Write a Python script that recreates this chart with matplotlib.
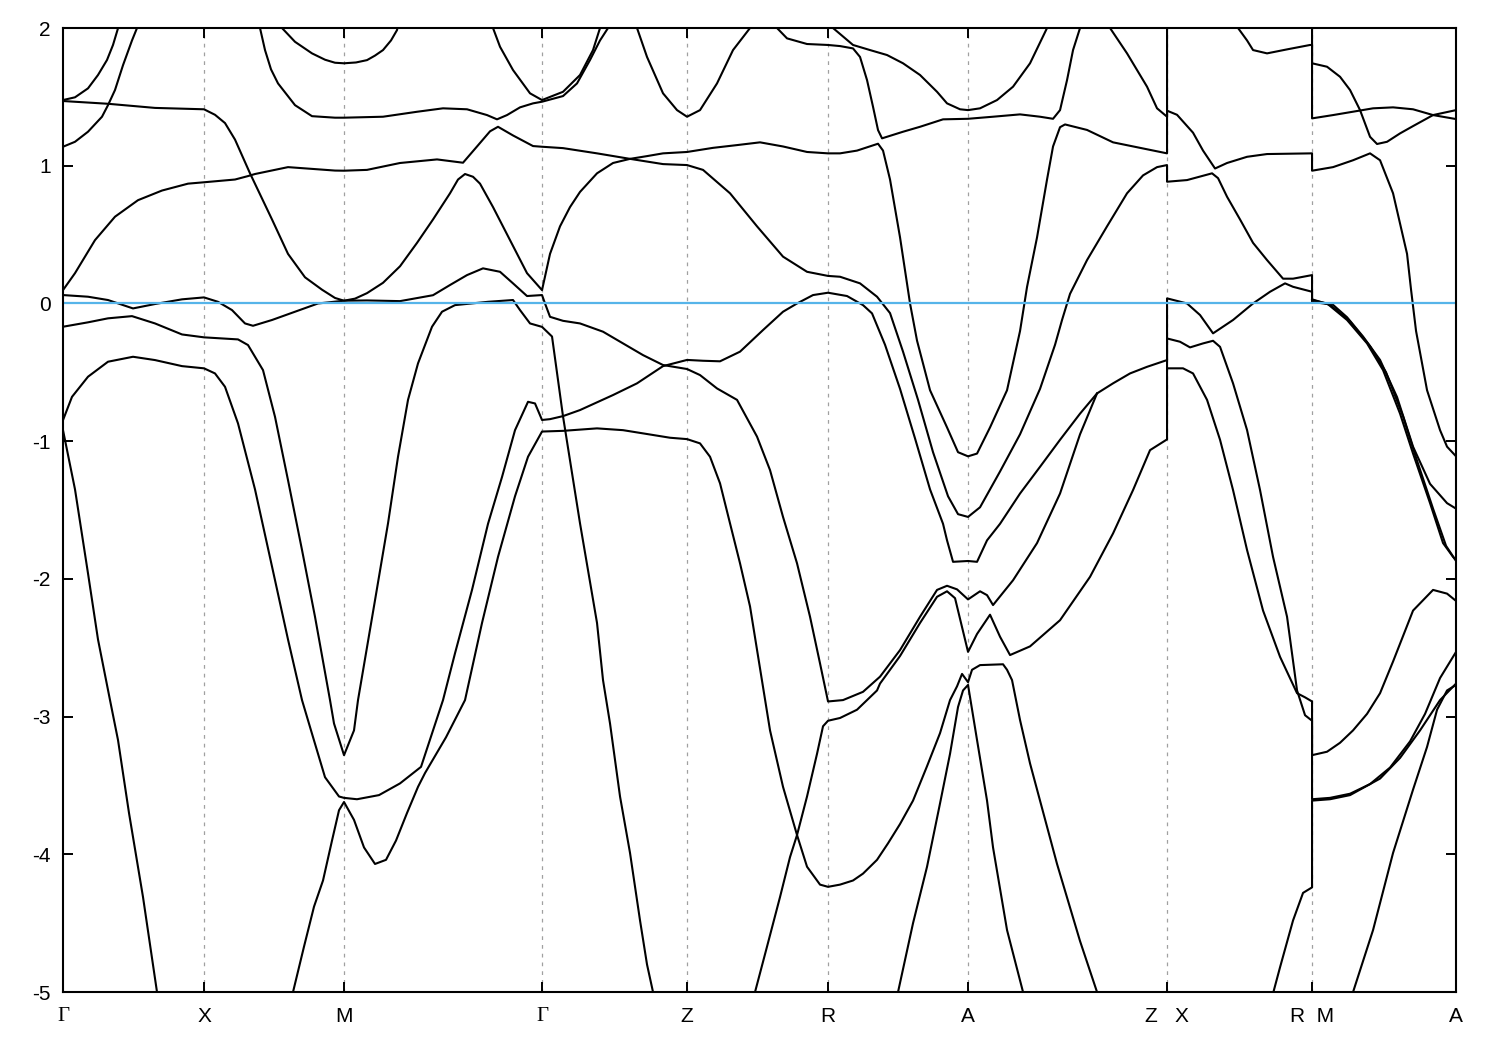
import numpy as np
import matplotlib
matplotlib.use("Agg")
import matplotlib.pyplot as plt

plt.rcParams['font.family'] = ['Liberation Sans', 'DejaVu Sans']
plt.rcParams['axes.unicode_minus'] = False

# high-symmetry points along the k-path
k_ticks = [0.0, 1.41, 2.81, 4.79, 6.24, 7.65, 9.05, 11.04, 12.49, 13.93]
k_labels = ["Γ", "X", "M", "Γ", "Z", "R", "A", "Z   X", "R  M", "A"]
e_min, e_max = -5, 2
e_fermi = 0.0

# bands as (k, E) pairs
b_u1 = [(0.00, 1.477), (0.12, 1.497), (0.25, 1.562), (0.35, 1.659), (0.44, 1.768), (0.50, 1.877), (0.55, 1.998), (0.58, 2.08)]
b_u2 = [(0.00, 1.138), (0.12, 1.174), (0.25, 1.247), (0.39, 1.356), (0.45, 1.44), (0.52, 1.55), (0.60, 1.73), (0.69, 1.91), (0.74, 2.0), (0.76, 2.06)]
b_w = [(1.95, 2.06), (1.97, 2.0), (2.02, 1.84), (2.08, 1.70), (2.15, 1.598), (2.32, 1.44), (2.49, 1.36), (2.72, 1.349), (2.81, 1.349),
       (3.20, 1.356), (3.54, 1.392), (3.80, 1.417), (4.04, 1.41), (4.24, 1.368), (4.34, 1.337), (4.44, 1.368), (4.57, 1.424),
       (4.70, 1.453), (4.79, 1.465), (5.00, 1.506), (5.14, 1.598), (5.27, 1.768), (5.37, 1.91), (5.45, 2.0), (5.48, 2.06)]
b_top = [(2.16, 2.06), (2.19, 2.0), (2.32, 1.90), (2.49, 1.816), (2.62, 1.77), (2.72, 1.748), (2.81, 1.744), (2.93, 1.75),
         (3.04, 1.767), (3.12, 1.80), (3.20, 1.84), (3.28, 1.91), (3.34, 1.985), (3.36, 2.06)]
b_s2 = [(4.28, 2.06), (4.30, 2.0), (4.37, 1.864), (4.50, 1.695), (4.67, 1.526), (4.79, 1.477), (5.00, 1.537), (5.17, 1.659),
        (5.30, 1.84), (5.37, 2.0), (5.39, 2.06)]
b_v = [(5.72, 2.06), (5.74, 2.0), (5.84, 1.79), (6.00, 1.526), (6.14, 1.404), (6.24, 1.356), (6.37, 1.404), (6.54, 1.598),
       (6.70, 1.84), (6.87, 2.0), (7.00, 2.06), (7.14, 2.0), (7.24, 1.925), (7.44, 1.884), (7.65, 1.877), (7.77, 1.869),
       (7.90, 1.852), (7.97, 1.79), (8.04, 1.622), (8.10, 1.428), (8.15, 1.259), (8.19, 1.199), (8.40, 1.247), (8.57, 1.283),
       (8.80, 1.337), (9.05, 1.341), (9.30, 1.356), (9.57, 1.373), (9.77, 1.356), (9.90, 1.341), (9.97, 1.404), (10.04, 1.622),
       (10.10, 1.84), (10.17, 2.0), (10.20, 2.06)]
b_r2 = [(7.65, 2.06), (7.70, 2.0), (7.90, 1.877), (8.07, 1.84), (8.24, 1.804), (8.40, 1.744), (8.57, 1.659), (8.74, 1.537),
        (8.84, 1.453), (8.97, 1.41), (9.05, 1.404), (9.17, 1.417), (9.34, 1.477), (9.50, 1.574), (9.67, 1.744), (9.84, 2.0), (9.87, 2.06)]
b_z1 = [(10.44, 2.06), (10.47, 2.0), (10.64, 1.816), (10.84, 1.574), (10.94, 1.417), (11.04, 1.356), (11.04, 2.1)]
b_x1 = [(11.72, 2.06), (11.75, 2.0), (11.84, 1.91), (11.90, 1.84), (12.04, 1.816), (12.24, 1.845), (12.47, 1.877), (12.49, 1.877),
        (12.49, 1.744), (12.64, 1.719), (12.77, 1.646), (12.87, 1.55), (12.97, 1.404), (13.07, 1.21), (13.14, 1.158),
        (13.24, 1.174), (13.37, 1.235), (13.50, 1.288), (13.70, 1.368), (13.93, 1.404)]
b_m1 = [(12.49, 2.1), (12.49, 1.344), (12.70, 1.368), (13.10, 1.417), (13.30, 1.424), (13.50, 1.41), (13.70, 1.368), (13.93, 1.339)]

b_c = [(0.00, 1.47), (0.45, 1.45), (0.92, 1.42), (1.41, 1.41), (1.52, 1.37), (1.62, 1.31), (1.72, 1.19), (1.87, 0.945),
       (2.09, 0.61), (2.25, 0.36), (2.42, 0.19), (2.59, 0.10), (2.72, 0.04), (2.81, 0.02),
       (2.92, 0.035), (3.04, 0.075), (3.20, 0.15), (3.37, 0.27), (3.54, 0.44), (3.70, 0.61), (3.87, 0.80), (3.95, 0.90), (4.02, 0.94),
       (4.10, 0.92), (4.17, 0.87), (4.30, 0.70), (4.47, 0.46), (4.64, 0.22), (4.79, 0.097),
       (4.87, 0.36), (4.97, 0.56), (5.07, 0.70), (5.17, 0.81), (5.34, 0.945), (5.50, 1.02), (5.67, 1.05), (5.84, 1.07),
       (6.00, 1.09), (6.24, 1.10), (6.50, 1.13), (6.74, 1.15), (6.97, 1.17), (7.20, 1.14), (7.44, 1.10), (7.65, 1.09),
       (7.77, 1.09), (7.94, 1.11), (8.15, 1.16), (8.20, 1.11), (8.27, 0.90), (8.37, 0.48), (8.47, 0.0), (8.54, -0.27),
       (8.67, -0.63), (8.84, -0.90), (8.95, -1.08), (9.05, -1.11),
       (9.14, -1.09), (9.27, -0.90), (9.44, -0.63), (9.57, -0.20), (9.64, 0.12), (9.74, 0.48), (9.84, 0.90), (9.90, 1.14),
       (9.97, 1.28), (10.02, 1.30), (10.24, 1.26), (10.50, 1.17), (10.77, 1.13), (11.04, 1.09),
       (11.04, 1.40), (11.14, 1.37), (11.30, 1.24), (11.40, 1.11), (11.52, 0.98), (11.64, 1.02), (11.84, 1.065), (12.04, 1.085),
       (12.49, 1.09), (12.49, 0.964), (12.70, 0.99), (12.90, 1.04), (13.07, 1.09), (13.17, 1.04), (13.30, 0.80), (13.44, 0.36),
       (13.48, 0.10), (13.53, -0.20), (13.64, -0.63), (13.77, -0.92), (13.84, -1.04), (13.93, -1.11)]
b_d = [(0.00, 0.097), (0.12, 0.22), (0.32, 0.46), (0.52, 0.63), (0.75, 0.75), (0.99, 0.82), (1.25, 0.87), (1.41, 0.88),
       (1.72, 0.90), (1.85, 0.925), (1.92, 0.94), (2.25, 0.99), (2.72, 0.965), (2.81, 0.964),
       (3.04, 0.97), (3.37, 1.02), (3.74, 1.046), (4.00, 1.022), (4.14, 1.14), (4.27, 1.25), (4.35, 1.283), (4.50, 1.22),
       (4.70, 1.143), (4.79, 1.138), (5.00, 1.128), (5.34, 1.09), (5.67, 1.05), (6.00, 1.012), (6.24, 1.005), (6.40, 0.97),
       (6.67, 0.80), (6.94, 0.56), (7.20, 0.34), (7.44, 0.23), (7.65, 0.20), (7.77, 0.194), (7.97, 0.146), (8.14, 0.049),
       (8.27, -0.07), (8.40, -0.35), (8.55, -0.70), (8.70, -1.08), (8.85, -1.40), (8.95, -1.53), (9.05, -1.55),
       (9.17, -1.48), (9.37, -1.22), (9.57, -0.95), (9.77, -0.62), (9.92, -0.30), (9.99, -0.12), (10.07, 0.07), (10.24, 0.315),
       (10.44, 0.56), (10.64, 0.80), (10.80, 0.93), (10.94, 0.99), (11.04, 1.005),
       (11.04, 0.884), (11.24, 0.896), (11.49, 0.945), (11.55, 0.91), (11.64, 0.775), (11.77, 0.61), (11.90, 0.44),
       (12.04, 0.315), (12.20, 0.18), (12.30, 0.18), (12.49, 0.206),
       (12.49, 0.012), (12.70, -0.01), (12.84, -0.10), (13.00, -0.24), (13.17, -0.41), (13.34, -0.68), (13.50, -1.04),
       (13.67, -1.31), (13.84, -1.45), (13.93, -1.49)]
b_e = [(0.00, 0.061), (0.25, 0.049), (0.45, 0.025), (0.70, -0.036), (0.92, -0.004), (1.19, 0.03), (1.41, 0.044),
       (1.55, 0.012), (1.69, -0.048), (1.82, -0.145), (1.90, -0.162), (2.09, -0.12), (2.32, -0.06), (2.55, 0.0), (2.81, 0.02),
       (3.04, 0.022), (3.37, 0.017), (3.70, 0.06), (3.87, 0.134), (4.04, 0.206), (4.20, 0.255), (4.37, 0.23), (4.50, 0.146),
       (4.64, 0.054), (4.79, 0.061),
       (4.82, 0.0), (4.87, -0.097), (5.00, -0.126), (5.17, -0.145), (5.40, -0.205), (5.60, -0.29), (5.80, -0.375),
       (6.00, -0.447), (6.24, -0.476), (6.37, -0.52), (6.54, -0.617), (6.74, -0.70), (6.94, -0.967), (7.07, -1.21),
       (7.20, -1.55), (7.34, -1.887), (7.47, -2.275), (7.57, -2.614), (7.65, -2.89),
       (7.80, -2.88), (8.00, -2.82), (8.17, -2.71), (8.37, -2.517), (8.57, -2.275), (8.74, -2.08), (8.84, -2.05),
       (8.94, -2.076), (9.05, -2.149), (9.17, -2.09), (9.24, -2.118), (9.30, -2.19), (9.50, -2.01), (9.74, -1.74),
       (9.97, -1.38), (10.17, -0.95), (10.34, -0.653)]
b_g = [(0.00, -0.847), (0.09, -0.678), (0.25, -0.532), (0.45, -0.423), (0.70, -0.387), (0.92, -0.411), (1.19, -0.455),
       (1.41, -0.471), (1.52, -0.508), (1.62, -0.605), (1.75, -0.871), (1.92, -1.35), (2.09, -1.91), (2.25, -2.44),
       (2.39, -2.88), (2.48, -3.10), (2.62, -3.44), (2.76, -3.58), (2.81, -3.59),
       (2.94, -3.60), (3.16, -3.57), (3.37, -3.485), (3.58, -3.365), (3.80, -2.88), (3.92, -2.54), (4.09, -2.08),
       (4.25, -1.60), (4.39, -1.26), (4.52, -0.92), (4.65, -0.714), (4.72, -0.726), (4.79, -0.846),
       (4.87, -0.84), (5.00, -0.818), (5.17, -0.774), (5.50, -0.665), (5.74, -0.58), (6.00, -0.455), (6.24, -0.41),
       (6.40, -0.416), (6.57, -0.42), (6.77, -0.35), (7.00, -0.193), (7.20, -0.06), (7.34, 0.0), (7.50, 0.061),
       (7.65, 0.078), (7.84, 0.054), (8.00, -0.012), (8.09, -0.072),
       (8.22, -0.30), (8.37, -0.62), (8.52, -0.98), (8.67, -1.35), (8.80, -1.60), (8.84, -1.72), (8.90, -1.876),
       (9.05, -1.87), (9.14, -1.876), (9.24, -1.72),
       (9.37, -1.60), (9.57, -1.38), (9.77, -1.186), (9.97, -0.99), (10.17, -0.80), (10.34, -0.653), (10.50, -0.58),
       (10.67, -0.508), (10.84, -0.46), (11.04, -0.411),
       (11.04, 0.037), (11.24, 0.0), (11.37, -0.084), (11.50, -0.217), (11.70, -0.12), (11.90, 0.0), (12.07, 0.085),
       (12.22, 0.146), (12.30, 0.121), (12.49, 0.085),
       (12.49, 0.025), (12.64, 0.0), (12.84, -0.12), (13.04, -0.29), (13.20, -0.484), (13.37, -0.80), (13.50, -1.09),
       (13.67, -1.45), (13.80, -1.74), (13.90, -1.84), (13.93, -1.863)]
b_m3 = [(12.49, 0.03), (12.67, -0.01), (12.87, -0.13), (13.07, -0.31), (13.23, -0.50), (13.40, -0.82), (13.53, -1.12),
        (13.70, -1.49), (13.83, -1.76), (13.93, -1.87)]
b_f = [(0.00, -0.169), (0.25, -0.137), (0.45, -0.108), (0.69, -0.092), (0.92, -0.145), (1.19, -0.225), (1.41, -0.246),
       (1.75, -0.261), (1.85, -0.302), (2.00, -0.484), (2.12, -0.823), (2.25, -1.283), (2.39, -1.79), (2.52, -2.275),
       (2.67, -2.88), (2.71, -3.05), (2.81, -3.28), (2.91, -3.10), (2.95, -2.88), (3.12, -2.155), (3.25, -1.597),
       (3.35, -1.113), (3.45, -0.70), (3.55, -0.435), (3.69, -0.169), (3.79, -0.06), (3.92, -0.012), (4.25, 0.012),
       (4.50, 0.025), (4.57, -0.048), (4.67, -0.145), (4.79, -0.17), (4.89, -0.24), (5.00, -0.82), (5.17, -1.597),
       (5.34, -2.32), (5.40, -2.735), (5.47, -3.05), (5.57, -3.58), (5.67, -3.99), (5.77, -4.48), (5.84, -4.80),
       (5.90, -5.0), (5.95, -5.3)]
b_h = [(2.27, -5.3), (2.30, -5.0), (2.41, -4.67), (2.51, -4.38), (2.60, -4.19), (2.69, -3.90), (2.76, -3.68),
       (2.81, -3.62), (2.91, -3.75), (3.01, -3.95), (3.12, -4.07), (3.23, -4.04), (3.33, -3.90), (3.44, -3.70),
       (3.55, -3.51), (3.62, -3.41), (3.83, -3.15), (4.02, -2.88), (4.19, -2.32), (4.35, -1.84), (4.52, -1.40),
       (4.65, -1.113), (4.79, -0.93),
       (5.00, -0.925), (5.34, -0.907), (5.60, -0.92), (5.84, -0.948), (6.07, -0.975), (6.24, -0.985), (6.37, -1.016),
       (6.47, -1.113), (6.57, -1.306), (6.67, -1.597), (6.77, -1.887), (6.87, -2.20), (6.97, -2.65), (7.07, -3.10),
       (7.20, -3.51), (7.34, -3.86), (7.44, -4.09), (7.57, -4.22), (7.65, -4.236), (7.77, -4.22), (7.90, -4.19),
       (8.00, -4.14), (8.14, -4.04), (8.25, -3.92), (8.37, -3.78), (8.50, -3.61), (8.64, -3.36), (8.77, -3.12),
       (8.87, -2.88), (8.94, -2.78), (8.99, -2.69), (9.05, -2.75), (9.09, -2.66), (9.17, -2.626), (9.40, -2.62),
       (9.44, -2.66), (9.49, -2.735), (9.57, -3.025), (9.67, -3.34), (9.94, -4.07), (10.17, -4.63), (10.34, -5.0),
       (10.40, -5.3)]
b_s1 = [(0.00, -0.92), (0.12, -1.35), (0.25, -1.96), (0.35, -2.44), (0.47, -2.88), (0.55, -3.17), (0.66, -3.70),
        (0.80, -4.31), (0.94, -5.0), (0.98, -5.3)]
b_lb = [(6.87, -5.3), (6.92, -5.0), (7.04, -4.67), (7.17, -4.31), (7.27, -4.02), (7.34, -3.86), (7.44, -3.58),
        (7.54, -3.27), (7.60, -3.07), (7.65, -3.03),
        (7.77, -3.01), (7.94, -2.95), (8.14, -2.81), (8.17, -2.76), (8.37, -2.56), (8.57, -2.32), (8.74, -2.13),
        (8.84, -2.09), (8.92, -2.14), (8.99, -2.35), (9.05, -2.53), (9.14, -2.40), (9.27, -2.26), (9.37, -2.42),
        (9.47, -2.553), (9.67, -2.49), (9.97, -2.30), (10.27, -1.985), (10.50, -1.67), (10.70, -1.355), (10.87, -1.065),
        (11.04, -0.987),
        (11.04, -0.254), (11.17, -0.278), (11.27, -0.319), (11.40, -0.29), (11.50, -0.271), (11.57, -0.315), (11.70, -0.58),
        (11.84, -0.919), (11.97, -1.355), (12.10, -1.84), (12.24, -2.275), (12.34, -2.81), (12.42, -2.99), (12.49, -3.03),
        (12.49, -3.60), (12.67, -3.59), (12.87, -3.56), (13.07, -3.49), (13.27, -3.37), (13.47, -3.18), (13.62, -2.98),
        (13.77, -2.72), (13.93, -2.53)]
b_xr3 = [(11.04, -0.471), (11.20, -0.471), (11.30, -0.508), (11.44, -0.70), (11.57, -0.99), (11.70, -1.355), (11.84, -1.79),
         (12.00, -2.23), (12.17, -2.566), (12.34, -2.83), (12.42, -2.86), (12.49, -2.89),
         (12.49, -3.28), (12.64, -3.255), (12.77, -3.19), (12.90, -3.10), (13.04, -2.98), (13.17, -2.83), (13.30, -2.60),
         (13.50, -2.23), (13.70, -2.08), (13.84, -2.107), (13.93, -2.16)]
b_xr4 = [(12.05, -5.3), (12.10, -5.01), (12.17, -4.82), (12.30, -4.48), (12.40, -4.28), (12.49, -4.24),
         (12.49, -3.61), (12.67, -3.60), (12.87, -3.57), (13.17, -3.45), (13.37, -3.30), (13.57, -3.10), (13.77, -2.88),
         (13.93, -2.76)]
b_ma5 = [(12.86, -5.3), (12.90, -5.0), (13.10, -4.55), (13.30, -3.99), (13.50, -3.53), (13.64, -3.22), (13.74, -2.95),
         (13.84, -2.81), (13.93, -2.77)]
b_ap = [(8.30, -5.3), (8.35, -5.0), (8.50, -4.50), (8.64, -4.09), (8.77, -3.63), (8.87, -3.27), (8.95, -2.93), (9.00, -2.81),
        (9.05, -2.77), (9.14, -3.17), (9.24, -3.61), (9.30, -3.95), (9.44, -4.55), (9.60, -5.0), (9.65, -5.3)]

bands = [b_u1, b_u2, b_w, b_top, b_s2, b_v, b_r2, b_z1, b_x1, b_m1, b_c, b_d, b_e, b_g, b_m3,
         b_f, b_h, b_s1, b_lb, b_xr3, b_xr4, b_ma5, b_ap]

fig = plt.figure(figsize=(15, 10.5), dpi=100)
ax = fig.add_axes([0.042, 0.0552, 0.9287, 0.9181])

# dashed guides at the interior high-symmetry points
for kx in k_ticks[1:-1]:
    ax.axvline(kx, color='#a0a0a0', lw=0.9, ls=(0, (3, 4)), zorder=1)

for band in bands:
    arr = np.array(band)
    ax.plot(arr[:, 0], arr[:, 1], color='black', lw=1.5, zorder=2, solid_joinstyle='round')

ax.axhline(e_fermi, color='#56b4e9', lw=1.6, zorder=3)

ax.set_xlim(k_ticks[0], k_ticks[-1])
ax.set_ylim(e_min, e_max)
ax.set_xticks(k_ticks)
ax.set_xticklabels(k_labels)
ax.set_yticks(range(e_min, e_max + 1))
ax.set_yticklabels([str(v) for v in range(e_min, e_max + 1)])
ax.tick_params(direction='in', length=7, width=1.4, top=True, right=True, labelsize=15, color='black')
ax.tick_params(axis='x', pad=11)
ax.tick_params(axis='y', pad=9)
for lab in ax.get_xticklabels():
    if lab.get_text() == "Γ":
        lab.set_fontfamily(['Liberation Serif', 'DejaVu Serif'])
for sp in ax.spines.values():
    sp.set_linewidth(1.5)
    sp.set_zorder(4)

fig.savefig("out.png", dpi=100)
